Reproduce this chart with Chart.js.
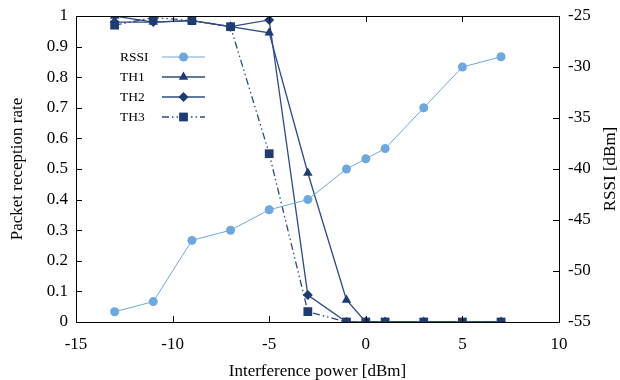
<!DOCTYPE html>
<html>
<head>
<meta charset="utf-8">
<script src="https://cdn.jsdelivr.net/npm/chart.js@4.4.0/dist/chart.umd.min.js"></script>
<style>
  html, body { margin: 0; padding: 0; background: #fff; }
  #wrap { width: 620px; height: 380px; }
</style>
</head>
<body>
<div id="wrap"><canvas id="c"></canvas></div>
<script>
// データ
const power = [-13, -11, -9, -7, -5, -3, -1, 0, 1, 3, 5, 7];
const rssi = [-54, -53, -47, -46, -44, -43, -40, -39, -38, -34, -30, -29];
const th1 = [1.0, 0.98, 0.985, 0.965, 0.945, 0.487, 0.072, 0, 0, 0, 0, 0];
const th2 = [0.98, 0.98, 0.985, 0.965, 0.987, 0.088, 0, 0, 0, 0, 0, 0];
const th3 = [0.97, 0.995, 0.985, 0.965, 0.55, 0.034, 0, 0, 0, 0, 0, 0];
const seriesNames = ['RSSI', 'TH1', 'TH2', 'TH3'];

const FONT = '"Liberation Serif", "DejaVu Serif", serif';
const LIGHT = '#6ea8de';
const DARK = '#1f3c72';
const DASH3 = [7, 3, 1.5, 3, 1.5, 3];

const pts = ys => power.map((x, i) => ({ x, y: ys[i] }));

// 内向きの目盛り・軸タイトル・凡例
const framePlugin = {
  id: 'frame',
  afterDraw(chart) {
    const { ctx, chartArea: a, scales } = chart;
    ctx.save();
    ctx.strokeStyle = '#000';
    ctx.lineWidth = 1;
    ctx.strokeRect(a.left + 0.5, a.top + 0.5, a.right - a.left, a.bottom - a.top);
    const L = 6;
    ctx.beginPath();
    scales.x.ticks.forEach(t => {
      const px = Math.round(scales.x.getPixelForValue(t.value)) + 0.5;
      ctx.moveTo(px, a.bottom); ctx.lineTo(px, a.bottom - L);
      ctx.moveTo(px, a.top); ctx.lineTo(px, a.top + L);
    });
    scales.y.ticks.forEach(t => {
      const py = Math.round(scales.y.getPixelForValue(t.value)) + 0.5;
      ctx.moveTo(a.left, py); ctx.lineTo(a.left + L, py);
    });
    scales.y2.ticks.forEach(t => {
      const py = Math.round(scales.y2.getPixelForValue(t.value)) + 0.5;
      ctx.moveTo(a.right, py); ctx.lineTo(a.right - L, py);
    });
    ctx.stroke();

    // 軸タイトル
    ctx.fillStyle = '#000';
    ctx.font = '17px ' + FONT;
    ctx.textAlign = 'center';
    ctx.textBaseline = 'middle';
    ctx.fillText('Interference power [dBm]', (a.left + a.right) / 2, 372);
    const midY = (a.top + a.bottom) / 2;
    [[18, 'Packet reception rate'], [611, 'RSSI [dBm]']].forEach(([x, txt]) => {
      ctx.save();
      ctx.translate(x, midY);
      ctx.rotate(-Math.PI / 2);
      ctx.fillText(txt, 0, 0);
      ctx.restore();
    });

    // 凡例
    ctx.font = '13.5px ' + FONT;
    ctx.textAlign = 'left';
    chart.data.datasets.forEach((ds, i) => {
      const y = a.top + 41 + i * 20;
      const x0 = a.left + 86, x1 = a.left + 129;
      ctx.fillStyle = '#000';
      ctx.fillText(seriesNames[i], a.left + 44, y);
      ctx.strokeStyle = ds.borderColor;
      ctx.lineWidth = ds.borderWidth;
      ctx.setLineDash(ds.borderDash || []);
      ctx.beginPath(); ctx.moveTo(x0, y); ctx.lineTo(x1, y); ctx.stroke();
      ctx.setLineDash([]);
      ctx.fillStyle = ds.pointBackgroundColor;
      Chart.helpers.drawPoint(ctx, { pointStyle: ds.pointStyle, radius: ds.pointRadius, rotation: 0, borderWidth: 0 }, (x0 + x1) / 2, y);
    });
    ctx.restore();
  }
};

const tickFont = { family: FONT, size: 17 };
const fmt = v => String(+v.toFixed(1));
const fitY = w => s => { s.width = w; s.paddingTop = 0; s.paddingBottom = 0; };
const noGrid = { display: false, drawTicks: false };

new Chart(document.getElementById('c'), {
  type: 'line',
  data: {
    datasets: [
      { label: 'RSSI', data: pts(rssi), yAxisID: 'y2', borderColor: LIGHT, borderWidth: 1,
        pointStyle: 'circle', pointRadius: 4.5, pointBackgroundColor: LIGHT, pointBorderWidth: 0 },
      { label: 'TH1', data: pts(th1), yAxisID: 'y', borderColor: '#2d4b82', borderWidth: 1.3,
        pointStyle: 'triangle', pointRadius: 5.5, pointBackgroundColor: DARK, pointBorderWidth: 0 },
      { label: 'TH2', data: pts(th2), yAxisID: 'y', borderColor: '#2d4b82', borderWidth: 1.3,
        pointStyle: 'rectRot', pointRadius: 5, pointBackgroundColor: DARK, pointBorderWidth: 0 },
      { label: 'TH3', data: pts(th3), yAxisID: 'y', borderColor: '#2d4b82', borderWidth: 1.3, borderDash: DASH3,
        pointStyle: 'rect', pointRadius: 6.2, pointBackgroundColor: DARK, pointBorderWidth: 0 }
    ]
  },
  options: {
    responsive: true,
    maintainAspectRatio: false,
    animation: false,
    layout: { padding: { top: 16, left: 0, right: 0, bottom: 0 } },
    plugins: { legend: { display: false }, tooltip: { enabled: false } },
    elements: { line: { tension: 0 } },
    scales: {
      x: {
        type: 'linear', min: -15, max: 10,
        ticks: { stepSize: 5, color: '#000', font: tickFont, padding: 12 },
        grid: noGrid,
        border: { display: false },
        afterFit: s => { s.height = 58; s.paddingLeft = 0; s.paddingRight = 0; }
      },
      y: {
        position: 'left', min: 0, max: 1,
        ticks: { stepSize: 0.1, color: '#000', font: tickFont, padding: 8, callback: fmt },
        grid: noGrid,
        border: { display: false },
        afterFit: fitY(76)
      },
      y2: {
        position: 'right', min: -55, max: -25,
        ticks: { stepSize: 5, color: '#000', font: tickFont, padding: 9 },
        grid: noGrid,
        border: { display: false },
        afterFit: fitY(61)
      }
    }
  },
  plugins: [framePlugin]
});
</script>
</body>
</html>
